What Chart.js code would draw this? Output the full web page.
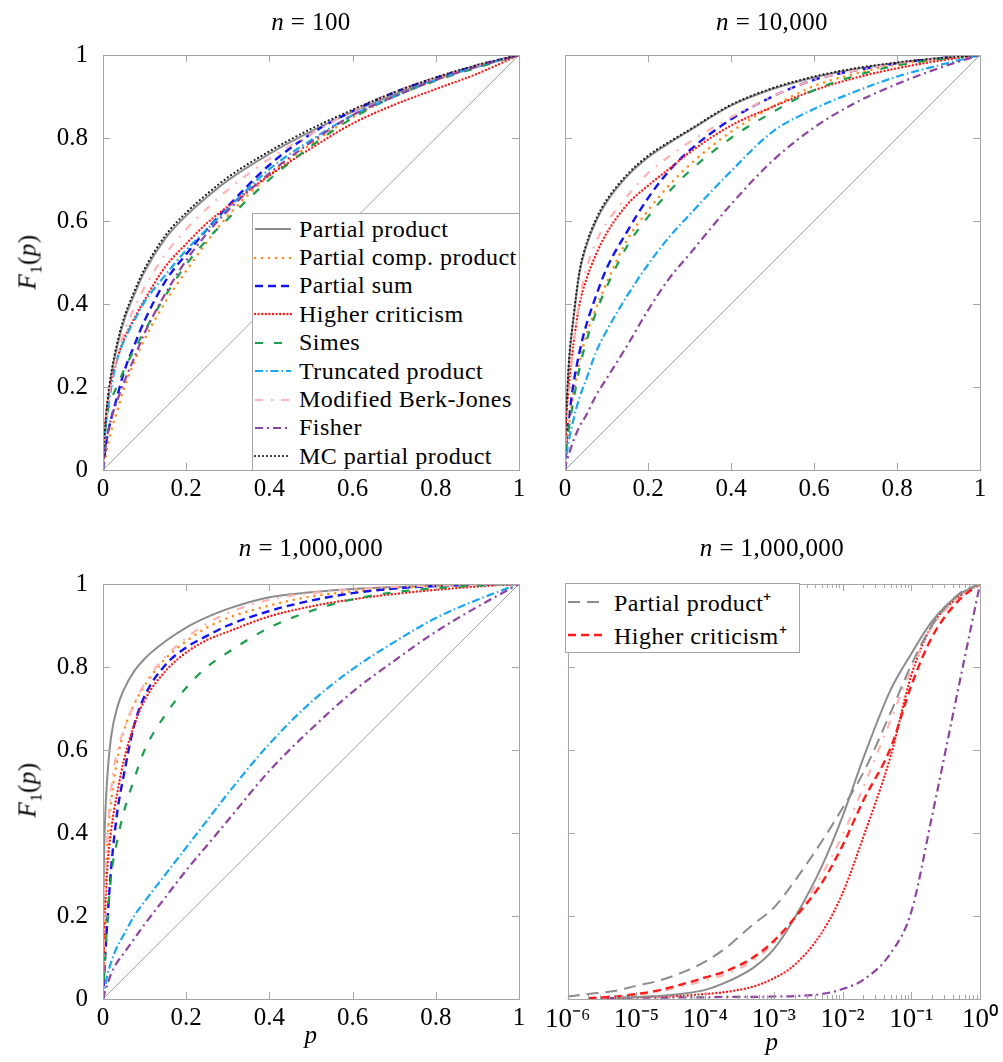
<!DOCTYPE html>
<html>
<head>
<meta charset="utf-8">
<script src="https://cdn.jsdelivr.net/npm/chart.js@4.4.1/dist/chart.umd.min.js"></script>
<style>
  body { margin: 0; background: #fff; }
  #page { position: relative; width: 1003px; height: 1062px; font-family: "Liberation Serif", serif; color: #000; overflow: hidden; }
  #page canvas { position: absolute; }
  .lbl { position: absolute; font-size: 25px; white-space: nowrap; transform: translate(-50%, -50%); z-index: 2; letter-spacing: 0.4px; }
  .ylbl { transform: translate(-50%, -50%) rotate(-90deg); }
  .legend { position: absolute; background: #fff; border: 1px solid #a6a6a6; font-size: 24px; letter-spacing: 0.5px; box-sizing: border-box; z-index: 3; padding-top: 1px; }
  .legend .row { display: flex; align-items: center; white-space: nowrap; }
  .legend svg { margin: 0 7px 0 1px; flex: none; }
</style>
</head>
<body>
<div id="page">
  <canvas id="c1" width="540" height="520" style="left:0;top:0"></canvas>
  <canvas id="c2" width="463" height="520" style="left:540px;top:0"></canvas>
  <canvas id="c3" width="540" height="534" style="left:0;top:528px"></canvas>
  <canvas id="c4" width="463" height="534" style="left:540px;top:528px"></canvas>

  <div class="lbl" style="left:311px;top:22px"><i>n</i> = 100</div>
  <div class="lbl" style="left:772px;top:22px"><i>n</i> = 10,000</div>
  <div class="lbl" style="left:311px;top:548px"><i>n</i> = 1,000,000</div>
  <div class="lbl" style="left:772px;top:548px"><i>n</i> = 1,000,000</div>
  <div class="lbl ylbl" style="left:30px;top:262px"><i>F</i><sub style="font-size:17px">1</sub>(<i>p</i>)</div>
  <div class="lbl ylbl" style="left:30px;top:790px"><i>F</i><sub style="font-size:17px">1</sub>(<i>p</i>)</div>
  <div class="lbl" style="left:311px;top:1035px"><i>p</i></div>
  <div class="lbl" style="left:772px;top:1042px"><i>p</i></div>

  <div class="legend" id="leg1" style="left:252px;top:213px;width:268px;height:258px"></div>
  <div class="legend" id="leg4" style="left:565px;top:583px;width:235px;height:70px"></div>
</div>

<script>
// ---- data: F1(p) curves ----
const pGrid = [0, 0.002, 0.005, 0.01, 0.02, 0.035, 0.05, 0.075, 0.1, 0.15, 0.2, 0.25, 0.3, 0.4, 0.5, 0.6, 0.7, 0.8, 0.9, 1];
const diagP = [0, 1];
const diagF = [0, 1];
const linTicks = [0, 0.2, 0.4, 0.6, 0.8, 1];

// n = 100
const pp1     = [0, .055, .095, .152, .228, .302, .358, .422, .478, .558, .613, .658, .698, .762, .816, .863, .905, .943, .974, 1];
const pcp1    = [0, .01, .025, .05, .095, .145, .195, .26, .315, .405, .48, .55, .612, .71, .785, .85, .9, .94, .972, 1];
const ps1     = [0, .02, .045, .08, .125, .18, .235, .3, .36, .455, .52, .58, .635, .735, .81, .865, .91, .945, .975, 1];
const hc1     = [0, .07, .11, .155, .215, .27, .315, .365, .41, .49, .545, .595, .635, .71, .775, .835, .88, .918, .955, 1];
const simes1  = [0, .05, .09, .135, .17, .205, .24, .29, .335, .42, .495, .555, .605, .7, .78, .848, .9, .938, .97, 1];
const tp1     = [0, .05, .09, .135, .2, .27, .31, .36, .405, .47, .53, .58, .63, .725, .795, .855, .9, .94, .972, 1];
const mbj1    = [0, .06, .1, .15, .215, .28, .33, .39, .44, .52, .58, .63, .675, .75, .81, .865, .91, .945, .975, 1];
const fisher1 = [0, .02, .045, .08, .125, .17, .21, .27, .33, .425, .505, .57, .625, .715, .79, .855, .9, .94, .972, 1];
const mc1     = [0, .06, .1, .16, .235, .31, .365, .43, .485, .565, .62, .665, .705, .768, .822, .868, .91, .946, .976, 1];

// n = 10,000
const pp2     = [0, .105, .175, .265, .36, .475, .535, .6, .645, .708, .753, .787, .818, .878, .918, .946, .966, .981, .992, 1];
const pcp2    = [0, .04, .075, .11, .18, .26, .32, .39, .45, .555, .625, .685, .735, .815, .875, .925, .955, .977, .99, 1];
const ps2     = [0, .05, .09, .13, .205, .285, .345, .42, .485, .575, .655, .72, .77, .845, .9, .94, .963, .98, .992, 1];
const hc2     = [0, .09, .15, .21, .3, .4, .455, .52, .57, .64, .685, .725, .765, .83, .875, .915, .945, .968, .986, 1];
const simes2  = [0, .035, .07, .105, .165, .245, .305, .38, .44, .54, .61, .67, .72, .8, .862, .915, .95, .975, .99, 1];
const tp2     = [0, .025, .045, .075, .12, .175, .215, .285, .335, .42, .495, .56, .615, .72, .815, .87, .912, .948, .975, 1];
const mbj2    = [0, .07, .12, .19, .3, .41, .48, .55, .595, .66, .715, .755, .79, .85, .9, .94, .963, .98, .992, 1];
const fisher2 = [0, .012, .025, .04, .07, .105, .13, .18, .22, .3, .385, .46, .52, .64, .745, .825, .885, .93, .968, 1];
const mc2     = [0, .11, .18, .27, .365, .48, .54, .605, .65, .712, .757, .79, .82, .88, .92, .948, .968, .982, .992, 1];

// n = 1,000,000 (linear p)
const pp3     = [0, .3, .43, .53, .635, .705, .745, .79, .82, .862, .895, .92, .94, .968, .98, .988, .993, .996, .998, 1];
const pcp3    = [0, .12, .24, .37, .48, .58, .645, .71, .755, .82, .862, .895, .918, .948, .97, .982, .99, .995, .998, 1];
const ps3     = [0, .04, .1, .18, .32, .455, .54, .66, .73, .805, .847, .875, .9, .935, .96, .978, .989, .995, .998, 1];
const hc3     = [0, .1, .2, .31, .41, .5, .575, .66, .72, .79, .835, .865, .885, .922, .946, .963, .976, .986, .994, 1];
const simes3  = [0, .04, .1, .18, .3, .385, .45, .53, .6, .685, .75, .8, .835, .895, .935, .963, .98, .99, .996, 1];
const tp3     = [0, .015, .03, .055, .09, .128, .155, .2, .235, .3, .365, .43, .495, .615, .715, .795, .86, .918, .962, 1];
const mbj3    = [0, .15, .28, .38, .51, .6, .648, .71, .76, .825, .87, .905, .93, .962, .978, .987, .993, .996, .998, 1];
const fisher3 = [0, .008, .018, .033, .062, .09, .11, .145, .18, .245, .31, .37, .43, .55, .65, .74, .815, .885, .945, 1];

// n = 1,000,000 (log p)
const logP      = [1e-6, 2e-6, 5e-6, 1e-5, 2e-5, 5e-5, 1e-4, 2e-4, 5e-4, 1e-3, 2e-3, 5e-3, 1e-2, 2e-2, 5e-2, 0.1, 0.2, 0.5, 1];
const logTicks  = [-6, -5, -4, -3, -2, -1, 0];
const ppPlus4   = [.006, .012, .02, .032, .043, .066, .09, .123, .18, .22, .284, .38, .46, .545, .69, .805, .9, .977, 1];
const pp4       = [null, null, .003, .005, .007, .013, .022, .04, .075, .12, .195, .32, .44, .58, .745, .832, .91, .975, 1];
const hcPlus4   = [null, .002, .006, .012, .02, .037, .052, .067, .1, .14, .195, .28, .37, .478, .605, .755, .872, .962, 1];
const mbj4      = [null, .001, .005, .01, .017, .032, .045, .06, .092, .135, .195, .3, .395, .51, .672, .795, .895, .97, 1];
const hc4       = [null, null, .002, .004, .006, .008, .012, .017, .03, .05, .082, .16, .255, .39, .585, .78, .9, .97, 1];
const fisher4   = [null, .002, .002, .003, .003, .004, .004, .005, .005, .006, .007, .012, .024, .046, .11, .21, .44, .76, 1];

// ---- styles ----
const styles = {
  pp:     { label: 'Partial product',       color: '#8c8c8c', dash: [],           width: 2 },
  pcp:    { label: 'Partial comp. product', color: '#ff8c1a', dash: [0, 7],       width: 2.6, cap: 'round' },
  ps:     { label: 'Partial sum',           color: '#1414f0', dash: [8, 5],       width: 2.4 },
  hc:     { label: 'Higher criticism',      color: '#ff1a1a', dash: [0, 3.6],     width: 2.4, cap: 'round' },
  simes:  { label: 'Simes',                 color: '#1b9e4b', dash: [8, 11],      width: 2.2 },
  tp:     { label: 'Truncated product',     color: '#1aa6f0', dash: [8, 3, 1.5, 3], width: 2.2 },
  mbj:    { label: 'Modified Berk-Jones',   color: '#ffb3b3', dash: [8, 8, 2, 8], width: 2.2 },
  fisher: { label: 'Fisher',                color: '#8e44a0', dash: [8, 4, 2, 4], width: 2.2 },
  mc:     { label: 'MC partial product',    color: '#1a1a1a', dash: [0, 4],       width: 2.2, cap: 'round' },
  ppPlus: { label: 'Partial product\u207A', color: '#8c8c8c', dash: [12, 7],      width: 2 },
  hcPlus: { label: 'Higher criticism\u207A', color: '#ff1a1a', dash: [8, 5],      width: 2.4 },
  diag:   { label: 'diag',                  color: '#a0a0a0', dash: [],           width: 1 }
};

const FONT = { family: 'Liberation Serif', size: 25 };
const FRAME = '#a6a6a6';
Chart.defaults.color = '#000';

function series(xs, ys, key, i) {
  const s = styles[key];
  return {
    label: s.label,
    data: xs.map((x, k) => ({ x: x, y: ys[k] })).filter(d => d.y !== null),
    borderColor: s.color,
    borderDash: s.dash,
    borderWidth: s.width,
    borderCapStyle: s.cap || 'butt',
    pointRadius: 0,
    fill: false,
    cubicInterpolationMode: 'monotone',
    order: -i
  };
}

// frame box + inward ticks on all four sides (pgfplots look)
const frameTicks = {
  id: 'frameTicks',
  afterDatasetsDraw(chart) {
    const { ctx, chartArea: a, scales } = chart;
    const sx = scales.x, sy = scales.y;
    ctx.save();
    ctx.strokeStyle = FRAME;
    ctx.lineWidth = 1;
    ctx.strokeRect(Math.round(a.left) + 0.5, Math.round(a.top) + 0.5, Math.round(a.width), Math.round(a.height));
    ctx.beginPath();
    const vtick = (px, len) => {
      px = Math.round(px) + 0.5;
      ctx.moveTo(px, a.bottom); ctx.lineTo(px, a.bottom - len);
      ctx.moveTo(px, a.top); ctx.lineTo(px, a.top + len);
    };
    if (sx.type === 'logarithmic') {
      logTicks.forEach(e => {
        vtick(sx.getPixelForValue(Math.pow(10, e)), 7);
        if (e < 0) for (let m = 2; m <= 9; m++) vtick(sx.getPixelForValue(m * Math.pow(10, e)), 4);
      });
    } else {
      linTicks.forEach(v => vtick(sx.getPixelForValue(v), 7));
    }
    linTicks.forEach(v => {
      const py = Math.round(sy.getPixelForValue(v)) + 0.5;
      ctx.moveTo(a.left, py); ctx.lineTo(a.left + 7, py);
      ctx.moveTo(a.right, py); ctx.lineTo(a.right - 7, py);
    });
    ctx.stroke();
    ctx.restore();
  }
};

const sup = { '-': '\u207B', '0': '\u2070', '1': '\u00B9', '2': '\u00B2', '3': '\u00B3', '4': '\u2074', '5': '\u2075', '6': '\u2076', '7': '\u2077', '8': '\u2078', '9': '\u2079' };

function makeChart(id, box, area, datasets, opts) {
  const yw = opts.yLabels ? 70 : 0;
  const xh = 35;
  const padding = {
    left: area[0] - yw,
    top: area[1],
    right: box.w - area[2],
    bottom: box.h - area[3] - xh
  };
  const xScale = opts.log ? {
    type: 'logarithmic', min: 1e-6, max: 1,
    afterBuildTicks: s => { s.ticks = logTicks.map(e => ({ value: Math.pow(10, e) })); },
    ticks: {
      autoSkip: false, maxRotation: 0, font: { family: 'Liberation Serif', size: 27 }, padding: 5,
      callback: v => '10' + String(Math.round(Math.log10(v))).split('').map(c => sup[c]).join('')
    }
  } : {
    type: 'linear', min: 0, max: 1,
    afterBuildTicks: s => { s.ticks = linTicks.map(v => ({ value: v })); },
    ticks: { autoSkip: false, maxRotation: 0, font: FONT, padding: 4, callback: v => String(v) }
  };
  xScale.grid = { display: false, drawTicks: false };
  xScale.border = { display: false };
  xScale.afterFit = s => { s.height = xh; };

  return new Chart(document.getElementById(id), {
    type: 'line',
    data: { datasets: datasets },
    options: {
      responsive: false,
      animation: false,
      events: [],
      layout: { padding: padding },
      plugins: { legend: { display: false }, tooltip: { enabled: false } },
      scales: {
        x: xScale,
        y: {
          type: 'linear', min: 0, max: 1,
          grid: { display: false, drawTicks: false },
          border: { display: false },
          afterBuildTicks: s => { s.ticks = linTicks.map(v => ({ value: v })); },
          ticks: { display: !!opts.yLabels, font: FONT, padding: 15, callback: v => String(v) },
          afterFit: s => { s.width = yw; }
        }
      }
    },
    plugins: [frameTicks]
  });
}

// panel 1: n = 100
makeChart('c1', { w: 540, h: 520 }, [103, 55, 519, 470], [
  series(diagP, diagF, 'diag', -1),
  series(pGrid, pp1, 'pp', 0),
  series(pGrid, pcp1, 'pcp', 1),
  series(pGrid, ps1, 'ps', 2),
  series(pGrid, hc1, 'hc', 3),
  series(pGrid, simes1, 'simes', 4),
  series(pGrid, tp1, 'tp', 5),
  series(pGrid, mbj1, 'mbj', 6),
  series(pGrid, fisher1, 'fisher', 7),
  series(pGrid, mc1, 'mc', 8)
], { yLabels: true });

// panel 2: n = 10,000
makeChart('c2', { w: 463, h: 520 }, [25, 55, 440, 470], [
  series(diagP, diagF, 'diag', -1),
  series(pGrid, pp2, 'pp', 0),
  series(pGrid, pcp2, 'pcp', 1),
  series(pGrid, ps2, 'ps', 2),
  series(pGrid, hc2, 'hc', 3),
  series(pGrid, simes2, 'simes', 4),
  series(pGrid, tp2, 'tp', 5),
  series(pGrid, mbj2, 'mbj', 6),
  series(pGrid, fisher2, 'fisher', 7),
  series(pGrid, mc2, 'mc', 8)
], { yLabels: false });

// panel 3: n = 1,000,000
makeChart('c3', { w: 540, h: 534 }, [103, 56, 519, 471], [
  series(diagP, diagF, 'diag', -1),
  series(pGrid, pp3, 'pp', 0),
  series(pGrid, pcp3, 'pcp', 1),
  series(pGrid, ps3, 'ps', 2),
  series(pGrid, hc3, 'hc', 3),
  series(pGrid, simes3, 'simes', 4),
  series(pGrid, tp3, 'tp', 5),
  series(pGrid, mbj3, 'mbj', 6),
  series(pGrid, fisher3, 'fisher', 7)
], { yLabels: true });

// panel 4: n = 1,000,000, log p
makeChart('c4', { w: 463, h: 534 }, [25, 56, 441, 471], [
  series(logP, fisher4, 'fisher', 0),
  series(logP, hc4, 'hc', 1),
  series(logP, mbj4, 'mbj', 2),
  series(logP, pp4, 'pp', 3),
  series(logP, hcPlus4, 'hcPlus', 4),
  series(logP, ppPlus4, 'ppPlus', 5)
], { yLabels: false, log: true });

// legends (html, styled from the same style table)
function buildLegend(elId, keys, rowH, lineW) {
  const el = document.getElementById(elId);
  el.innerHTML = keys.map(k => {
    const s = styles[k];
    const dash = s.dash.length ? `stroke-dasharray="${s.dash.join(' ')}"` : '';
    return `<div class="row" style="height:${rowH}px">
      <svg width="${lineW}" height="10"><line x1="1" y1="5" x2="${lineW - 1}" y2="5" stroke="${s.color}" stroke-width="${s.width}" stroke-linecap="${s.cap || 'butt'}" ${dash}/></svg>
      <span>${s.label}</span></div>`;
  }).join('');
}
buildLegend('leg1', ['pp', 'pcp', 'ps', 'hc', 'simes', 'tp', 'mbj', 'fisher', 'mc'], 28.4, 38);
buildLegend('leg4', ['ppPlus', 'hcPlus'], 33, 40);
</script>
</body>
</html>
